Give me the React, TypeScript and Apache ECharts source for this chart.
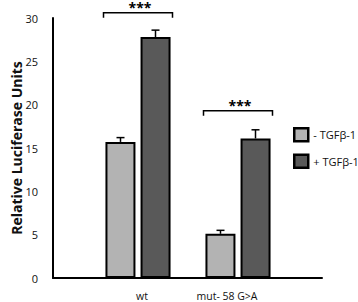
import React, { useEffect, useRef } from "react";
import * as echarts from "echarts";

const categories = ["wt", "mut- 58 G>A"];
const seriesNames = ["- TGFβ-1", "+ TGFβ-1"];
const minusValues = [15.7, 5.1];
const minusErrors = [0.5, 0.4];
const plusValues = [27.8, 16.1];
const plusErrors = [0.8, 1.0];
const sigLevels = [30.6, 19.3];
const sigLabels = ["***", "***"];
const yTicks = { min: 0, max: 30, interval: 5 };

const FONT = "'Open Sans', 'Liberation Sans', sans-serif";
const BAR_W = 30;
const OFFSET = 17.5;

export default function App() {
  const ref = useRef<HTMLDivElement>(null);
  useEffect(() => {
    if (!ref.current) return;
    const chart = echarts.init(ref.current, undefined, { renderer: "svg" });

    const errRender = (offset: number) => (params: any, api: any) => {
      const i = api.value(0);
      const v = api.value(1);
      const e = api.value(2);
      const base = api.coord([i, v]);
      const top = api.coord([i, v + e]);
      const x = base[0] + offset;
      return {
        type: "group",
        children: [
          { type: "line", shape: { x1: x, y1: base[1], x2: x, y2: top[1] }, style: { stroke: "#000", lineWidth: 1.5 } },
          { type: "line", shape: { x1: x - 4, y1: top[1], x2: x + 4, y2: top[1] }, style: { stroke: "#000", lineWidth: 1.5 } },
        ],
      };
    };

    const sigRender = (params: any, api: any) => {
      const i = api.value(0);
      const y = api.value(1);
      const p = api.coord([i, y]);
      const half = 34.5;
      return {
        type: "group",
        children: [
          {
            type: "polyline",
            shape: { points: [[p[0] - half, p[1] + 5], [p[0] - half, p[1]], [p[0] + half, p[1]], [p[0] + half, p[1] + 5]] },
            style: { stroke: "#000", lineWidth: 1.5, fill: "none" },
          },
          {
            type: "text",
            x: p[0] + 2,
            y: p[1] - 11,
            style: { text: sigLabels[params.dataIndex], fill: "#000", font: `bold 14px ${FONT}`, align: "center", verticalAlign: "top", lineHeight: 11 },
          },
        ],
      };
    };

    chart.setOption({
      animation: false,
      grid: [
        { left: 53, right: 36, top: 18, bottom: 24, outerBoundsMode: "none", containLabel: false },
        { left: 88, width: 200, top: 18, bottom: 24, outerBoundsMode: "none", containLabel: false },
      ],
      legend: {
        orient: "vertical",
        left: 293,
        top: 127,
        padding: 0,
        itemWidth: 14,
        itemHeight: 13,
        itemGap: 11,
        icon: "rect",
        data: seriesNames,
        textStyle: { fontFamily: FONT, fontSize: 11, color: "#111", overflow: "none" },
        itemStyle: { borderColor: "#000", borderWidth: 2.5 },
      },
      xAxis: [
        {
          type: "value",
          gridIndex: 0,
          min: 0,
          max: 1,
          axisLine: { show: true, onZero: false, lineStyle: { color: "#000", width: 2 } },
          axisTick: { show: false },
          axisLabel: { show: false },
          splitLine: { show: false },
        },
        {
          type: "category",
          gridIndex: 1,
          data: [
            { value: categories[0], textStyle: { padding: [0, 0, 0, 8] } },
            { value: categories[1], textStyle: { padding: [0, 22, 0, 0] } },
          ],
          axisLine: { show: false },
          axisTick: { show: false },
          axisLabel: { margin: 12, fontFamily: FONT, fontSize: 10.5, lineHeight: 11, color: "#111" },
        },
      ],
      yAxis: [
        {
          type: "value",
          gridIndex: 0,
          min: yTicks.min,
          max: yTicks.max,
          interval: yTicks.interval,
          name: "Relative Luciferase Units",
          nameLocation: "middle",
          nameRotate: 90,
          nameGap: 30,
          nameMoveOverlap: false,
          nameTextStyle: { fontFamily: FONT, fontSize: 14, lineHeight: 14, fontWeight: "bold", color: "#111" },
          axisLine: { show: true, lineStyle: { color: "#000", width: 2 } },
          axisTick: { show: false },
          axisLabel: { margin: 15, fontFamily: FONT, fontSize: 11, color: "#111" },
          splitLine: { show: false },
        },
        {
          type: "value",
          gridIndex: 1,
          min: yTicks.min,
          max: yTicks.max,
          interval: yTicks.interval,
          show: false,
          splitLine: { show: false },
        },
      ],
      series: [
        {
          name: seriesNames[0],
          type: "bar",
          xAxisIndex: 1,
          yAxisIndex: 1,
          barWidth: BAR_W,
          barGap: "17%",
          data: minusValues,
          itemStyle: { color: "#b3b3b3", borderColor: "#000", borderWidth: 2 },
        },
        {
          name: seriesNames[1],
          type: "bar",
          xAxisIndex: 1,
          yAxisIndex: 1,
          barWidth: BAR_W,
          barGap: "17%",
          data: plusValues,
          itemStyle: { color: "#595959", borderColor: "#000", borderWidth: 2 },
        },
        {
          type: "custom",
          xAxisIndex: 1,
          yAxisIndex: 1,
          clip: false,
          renderItem: errRender(-OFFSET),
          data: minusValues.map((v, i) => [i, v, minusErrors[i]]),
          z: 3,
        },
        {
          type: "custom",
          xAxisIndex: 1,
          yAxisIndex: 1,
          clip: false,
          renderItem: errRender(OFFSET),
          data: plusValues.map((v, i) => [i, v, plusErrors[i]]),
          z: 3,
        },
        {
          type: "custom",
          xAxisIndex: 1,
          yAxisIndex: 1,
          clip: false,
          renderItem: sigRender,
          data: sigLevels.map((v, i) => [i, v]),
          z: 3,
        },
      ],
    });
    return () => chart.dispose();
  }, []);

  return <div ref={ref} style={{ width: 358, height: 302, position: "absolute", left: 0, top: 0 }} />;
}
